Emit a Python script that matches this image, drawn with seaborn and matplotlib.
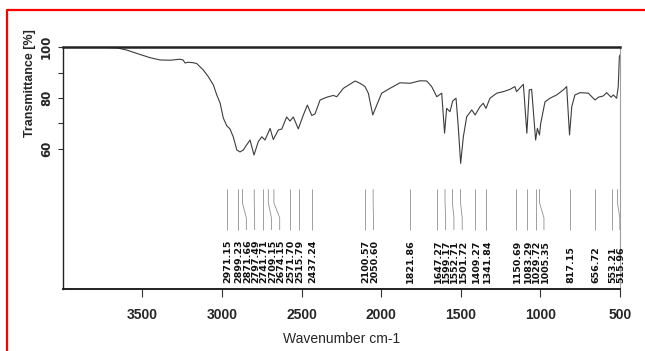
import matplotlib
matplotlib.use("Agg")
import matplotlib.pyplot as plt
import seaborn as sns
import pandas as pd
from matplotlib import font_manager
from matplotlib.lines import Line2D

# ---- data ----
wavenumber = [3997, 3900, 3766, 3661, 3598, 3536, 3452, 3389, 3326, 3264, 3245, 3232,
              3213, 3180, 3159, 3117, 3086, 3054, 3033, 3012, 2992, 2970, 2950, 2929,
              2907, 2887, 2866, 2845, 2824, 2799, 2772, 2750, 2730, 2698, 2678, 2646,
              2625, 2594, 2573, 2552, 2521, 2489, 2464, 2436, 2416, 2384, 2342, 2301,
              2279, 2238, 2164, 2133, 2102, 2081, 2053, 2028, 1997, 1945, 1882, 1819,
              1756, 1714, 1683, 1651, 1620, 1602, 1589, 1568, 1551, 1530, 1516, 1501,
              1484, 1463, 1431, 1410, 1379, 1359, 1342, 1317, 1274, 1233, 1191, 1160,
              1150, 1107, 1085, 1070, 1055, 1030, 1019, 1006, 998, 971, 940, 898,
              856, 835, 817, 803, 783, 751, 699, 657, 636, 605, 584, 556,
              542, 521, 511, 504, 500]
transmittance = [100, 100, 100, 99.8, 98.9, 97.6, 95.9, 95.0, 94.9, 95.3, 95.0, 93.8,
                 94.1, 93.9, 93.6, 91.0, 88.4, 85.1, 81.2, 78.0, 72.1, 69.0, 67.8, 64.6,
                 59.5, 58.7, 59.5, 61.5, 63.4, 57.5, 62.8, 64.7, 63.4, 68.0, 63.6, 67.4,
                 67.7, 72.5, 70.9, 72.5, 67.8, 73.3, 77.2, 73.1, 73.7, 79.2, 80.3, 81.0,
                 80.5, 83.8, 86.7, 85.8, 84.5, 81.9, 73.3, 77.2, 81.9, 83.8, 86.0, 85.8,
                 86.8, 86.7, 84.5, 80.5, 81.9, 66.1, 75.9, 74.6, 78.8, 79.9, 68.7, 54.2,
                 64.7, 72.6, 75.3, 73.3, 76.6, 77.9, 75.9, 79.9, 81.9, 82.5, 83.4, 84.5,
                 82.5, 85.4, 66.1, 83.2, 83.4, 63.4, 68.0, 65.4, 70.0, 78.5, 79.9, 81.2,
                 83.2, 84.5, 65.4, 76.6, 81.2, 82.1, 81.9, 79.2, 80.3, 80.8, 82.1, 80.3,
                 81.2, 79.9, 84.5, 96.3, 97.0]
peak_labels = [2971.15, 2899.23, 2871.66, 2797.49, 2741.71, 2709.15, 2674.15, 2571.70,
               2515.79, 2437.24, 2100.57, 2050.60, 1821.86, 1647.27, 1599.17, 1552.71,
               1501.72, 1409.27, 1341.84, 1150.69, 1083.29, 1029.72, 1005.35, 817.15,
               656.72, 553.21, 515.96]
x_ticks = [3500, 3000, 2500, 2000, 1500, 1000, 500]
y_ticks = [60, 70, 80, 90, 100]
y_tick_labels = ["60", "", "80", "", "100"]
x_title = "Wavenumber cm-1"
y_title = "Transmittance [%]"

sns.set_style("ticks")
names = {f.name for f in font_manager.fontManager.ttflist}
narrow = "Liberation Sans Narrow" if "Liberation Sans Narrow" in names else "Liberation Sans"

W, H = 645, 351
fig = plt.figure(figsize=(W / 100, H / 100), dpi=100)
L, R, T, B = 63.3, 620.0, 47.3, 289.3
ax = fig.add_axes([L / W, 1 - B / H, (R - L) / W, (B - T) / H])

df = pd.DataFrame({"Wavenumber": wavenumber, "Transmittance": transmittance})
sns.lineplot(data=df, x="Wavenumber", y="Transmittance", ax=ax, color="#3c3c3c",
             lw=0.8, estimator=None, sort=False)

ax.set_xlim(3997, 500)
ax.set_ylim(4.5, 100)

# peak annotations: spread labels to a minimum spacing
min_gap = 52.0  # in cm-1
label_pos = []
for i, w in enumerate(peak_labels):
    if i == 0:
        label_pos.append(w)
    else:
        label_pos.append(min(w, label_pos[-1] - min_gap))
for w, lp in zip(peak_labels, label_pos):
    ax.plot([w, w, lp, lp], [44.0, 38.6, 32.7, 27.9], color="#8f8f8f", lw=0.6,
            solid_capstyle="butt")
    ax.text(lp, 7.0, f"{w:.2f}", rotation=90, rotation_mode="anchor", ha="left",
            va="center_baseline", fontsize=6.8, fontweight="bold", family="DejaVu Sans",
            color="#111111")

ax.set_xticks(x_ticks)
ax.set_xticklabels([str(v) for v in x_ticks], family=narrow, fontsize=10,
                   fontweight="bold")
ax.set_yticks(y_ticks)
ax.set_yticklabels(y_tick_labels, family="DejaVu Sans", fontsize=8.5,
                   fontweight="bold", rotation=90, va="center")
ax.tick_params(axis="x", length=5.8, width=0.8, pad=7.5, color="#333333")
ax.tick_params(axis="y", length=3.4, width=0.8, pad=4, color="#333333")

ax.set_xlabel(x_title, family=narrow, fontsize=10, va="center")
ax.xaxis.set_label_coords(0.5, -0.205)
ax.set_ylabel(y_title, family="Liberation Sans", fontsize=9, fontweight="bold",
              va="center")
ax.yaxis.set_label_coords(-0.0598, 0.8525)

for s in ax.spines.values():
    s.set_color("#222222")
ax.spines["top"].set_linewidth(1.8)
ax.spines["bottom"].set_linewidth(1.4)
ax.spines["left"].set_linewidth(1.0)
ax.spines["right"].set_linewidth(0.8)
ax.spines["right"].set_color("#a0a0a0")

fig.add_artist(Line2D([6.7 / W, 6.7 / W, 1.0], [0.0, 1 - 10.2 / H, 1 - 10.2 / H],
                      color="red", lw=1.6, transform=fig.transFigure))

fig.savefig("out.png", dpi=100)
